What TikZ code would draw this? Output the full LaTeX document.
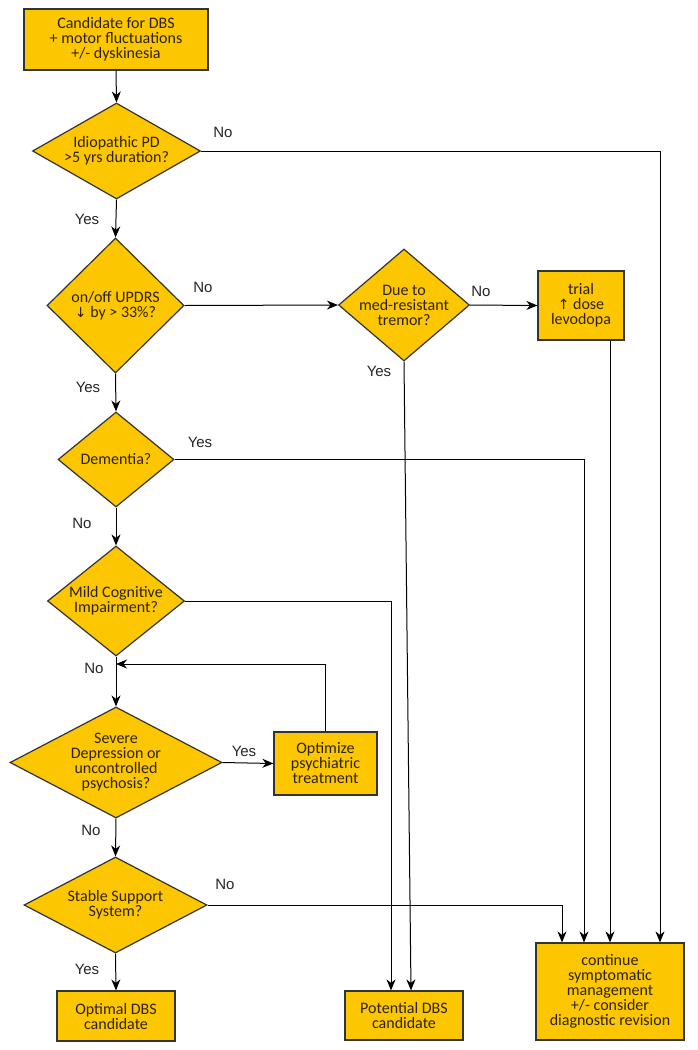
\documentclass[tikz,border=0pt]{standalone}
\usepackage{fontspec}
\setmainfont{Carlito}
\newfontfamily\labfont{Liberation Sans}
\newfontfamily\symfont{DejaVu Sans}
\usetikzlibrary{shapes.geometric,arrows.meta}
\definecolor{gold}{RGB}{252,198,0}
\definecolor{ink}{RGB}{45,35,15}
\tikzset{
  boxnode/.style={draw=black!80, line width=1.2pt, fill=gold, inner sep=1pt, align=center,
    font=\fontsize{16}{15}\selectfont, text=ink},
  dia/.style={draw=black!80, line width=1.2pt, fill=gold, shape=diamond, inner sep=0pt},
  dtxt/.style={align=center, font=\fontsize{16}{15}\selectfont, text=ink, inner sep=0pt},
  lab/.style={font=\labfont\fontsize{15}{15}\selectfont, text=black!85, inner sep=0pt},
  conn/.style={draw=black, line width=1pt},
  arr/.style={conn, -{Stealth[length=11pt,width=9pt,inset=3.5pt]}}
}
\begin{document}
\begin{tikzpicture}[x=1pt,y=-1pt]
\useasboundingbox[fill=white] (0,0) rectangle (697,1050);

% boxes
\node[boxnode, minimum width=184pt, minimum height=61pt] (b1) at (116,39.5)
  {Candidate for DBS\\+ motor fluctuations\\+/- dyskinesia};
\node[boxnode, minimum width=86pt, minimum height=69pt] (trial) at (581,305.5)
  {trial\\{\symfont\fontsize{14}{15}\selectfont ↑} dose\\levodopa};
\node[boxnode, minimum width=103pt, minimum height=63pt] (opt) at (325.5,763.5)
  {Optimize\\psychiatric\\treatment};
\node[boxnode, minimum width=118pt, minimum height=50pt] (optimal) at (116,1016)
  {Optimal DBS\\candidate};
\node[boxnode, minimum width=118pt, minimum height=49pt] (pot) at (404,1015.5)
  {Potential DBS\\candidate};
\node[boxnode, minimum width=148pt, minimum height=97pt] (cont) at (610,991.5)
  {continue\\symptomatic\\management\\+/- consider\\diagnostic revision};

% diamonds
\node[dia, minimum width=168pt, minimum height=96pt] (d1) at (116.5,151) {};
\node[dtxt] (d1t) at (d1) {Idiopathic PD\\>5 yrs duration?};
\node[dia, minimum width=137pt, minimum height=135pt] (d2) at (115.5,305.5) {};
\node[dtxt] (d2t) at (d2) {on/off UPDRS\\{\symfont\fontsize{14}{15}\selectfont ↓} by > 33\%?};
\node[dia, minimum width=131pt, minimum height=112pt] (d3) at (404,305) {};
\node[dtxt] (d3t) at (d3) {Due to\\med-resistant\\tremor?};
\node[dia, minimum width=116pt, minimum height=95pt] (d4) at (116,459.5) {};
\node[dtxt] (d4t) at (d4) {Dementia?};
\node[dia, minimum width=137pt, minimum height=110pt] (d5) at (116,601) {};
\node[dtxt] (d5t) at (d5) {Mild Cognitive\\Impairment?};
\node[dia, minimum width=212pt, minimum height=111pt] (d6) at (116,762.5) {};
\node[dtxt] (d6t) at (d6) {Severe\\Depression or\\uncontrolled\\psychosis?};
\node[dia, minimum width=183pt, minimum height=96pt] (d7) at (115.5,905) {};
\node[dtxt] (d7t) at (d7) {Stable Support\\System?};

\coordinate (fb) at (116,664);

% main chain
\draw[arr] (b1.south) -- (d1.north);
\draw[arr] (d1.south) -- (d2.north);
\draw[arr] (d2.south) -- (d4.north);
\draw[arr] (d4.south) -- (d5.north);
\draw[arr] (d5.south) -- (d6.north);
\draw[arr] (d6.south) -- (d7.north);
\draw[arr] (d7.south) -- (optimal.north);

% side branches
\draw[arr] (d2.east) -- (d3.west);
\draw[arr] (d3.east) -- (trial.west);
\draw[arr] (d6.east) -- (opt.west);
\draw[arr] (opt.north) |- (fb);
\draw[arr] (d3.south) -- ([xshift=7pt]pot.north);
\draw[arr] (d5.east) -| ([xshift=-13pt]pot.north);
\draw[arr] (d1.east) -| ([xshift=50pt]cont.north);
\draw[arr] (d4.east) -| ([xshift=-26pt]cont.north);
\draw[arr] (trial.south -| cont.north) -- (cont.north);
\draw[arr] (d7.east) -| ([xshift=-48pt]cont.north);

% labels
\node[lab] (l1) at (223,132) {No};
\node[lab] (l2) at (87,219) {Yes};
\node[lab] (l3) at (203,287) {No};
\node[lab] (l4) at (481,291) {No};
\node[lab] (l5) at (379,371) {Yes};
\node[lab] (l6) at (88,387) {Yes};
\node[lab] (l7) at (200,442) {Yes};
\node[lab] (l8) at (82,523) {No};
\node[lab] (l9) at (94,668) {No};
\node[lab] (l10) at (244,751) {Yes};
\node[lab] (l11) at (91,830) {No};
\node[lab] (l12) at (225,884) {No};
\node[lab] (l13) at (87,969) {Yes};
\end{tikzpicture}
\end{document}
